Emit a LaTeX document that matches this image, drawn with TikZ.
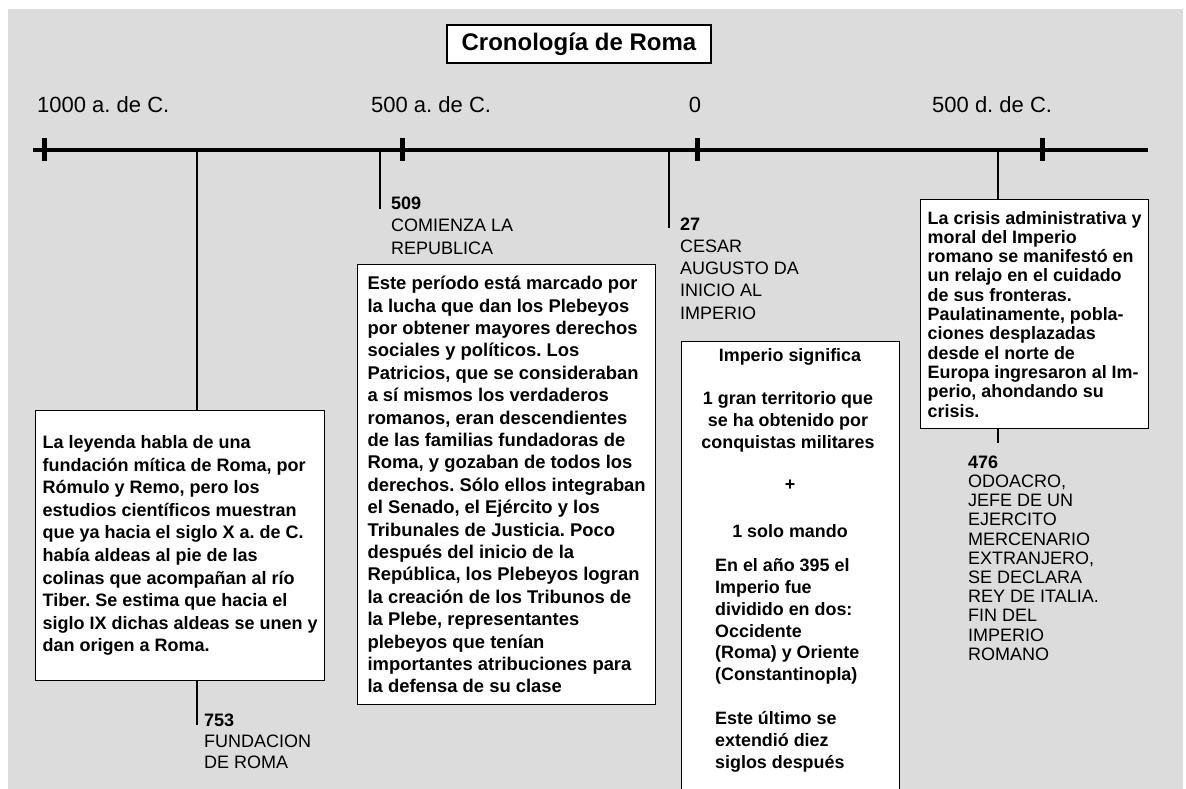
\documentclass[tikz,border=0pt]{standalone}
\usepackage{fontspec}
\setmainfont{Liberation Sans}
\frenchspacing
\definecolor{bggray}{RGB}{220,220,220}
\tikzset{
  boxnode/.style={draw=black, line width=1.3pt, fill=white, rectangle, inner sep=0pt, anchor=north west},
  axisline/.style={line width=4.5pt},
  tickline/.style={line width=5pt},
  evline/.style={line width=2pt},
  lab/.style={align=left, inner sep=0pt, anchor=north west},
  axlab/.style={font=\fontsize{22}{26}\selectfont, inner sep=0pt},
  bt/.style={font=\bfseries\fontsize{17.9}{21.8}\selectfont, inner sep=0pt}
}
\begin{document}
\frenchspacing
\begin{tikzpicture}[x=1pt,y=-1pt]
\useasboundingbox (0,0) rectangle (1186,789);
\fill[white] (0,0) rectangle (1186,789);
\fill[bggray] (8,9) rectangle (1183,789);

% title
\node[draw=black, line width=1.3pt, fill=white, minimum width=264pt, minimum height=38pt, inner sep=0pt,
      font=\bfseries\fontsize{24}{28}\selectfont] (title) at (579,44) {Cronología de Roma};

% axis labels
\node[axlab, anchor=west] (a1) at (37,105) {1000 a. de C.};
\node[axlab, anchor=west] (a2) at (371,105) {500 a. de C.};
\node[axlab] (a3) at (695,105) {0};
\node[axlab, anchor=west] (a4) at (932,105) {500 d. de C.};

% axis
\coordinate (axL) at (33,150);
\coordinate (axR) at (1148,150);
\draw[axisline] (axL) -- (axR);
\foreach \tx in {44,402,697,1042} {\draw[tickline] (\tx,138) -- (\tx,161);}

% boxes
\node[boxnode, minimum width=289pt, minimum height=270pt, align=left,
      font=\bfseries\fontsize{18}{22.6}\selectfont] (b1) at (35,410)
 {La leyenda habla de una\\
  fundación mítica de Roma, por\\
  Rómulo y Remo, pero los\\
  estudios científicos muestran\\
  que ya hacia el siglo X a. de C.\\
  había aldeas al pie de las\\
  colinas que acompañan al río\\
  Tiber. Se estima que hacia el\\
  siglo IX dichas aldeas se unen y\\
  dan origen a Roma.};

\node[boxnode, minimum width=298pt, minimum height=440pt, align=left,
      font=\bfseries\fontsize{18.4}{22.4}\selectfont] (b2) at (357,264)
 {Este período está marcado por\\
  la lucha que dan los Plebeyos\\
  por obtener mayores derechos\\
  sociales y políticos. Los\\
  Patricios, que se consideraban\\
  a sí mismos los verdaderos\\
  romanos, eran descendientes\\
  de las familias fundadoras de\\
  Roma, y gozaban de todos los\\
  derechos. Sólo ellos integraban\\
  el Senado, el Ejército y los\\
  Tribunales de Justicia. Poco\\
  después del inicio de la\\
  República, los Plebeyos logran\\
  la creación de los Tribunos de\\
  la Plebe, representantes\\
  plebeyos que tenían\\
  importantes atribuciones para\\
  la defensa de su clase};

\node[boxnode, minimum width=218pt, minimum height=470pt] (b3) at (681,341) {};
\node[bt] (t3a) at (790,357) {Imperio significa};
\node[bt, align=center] (t3b) at (788,422) {1 gran territorio que\\se ha obtenido por\\conquistas militares};
\node[bt] (t3c) at (790,485) {+};
\node[bt] (t3d) at (790,531) {1 solo mando};
\node[bt, align=left, anchor=north west] (t3e) at (715,558.6)
 {En el año 395 el\\Imperio fue\\dividido en dos:\\Occidente\\(Roma) y Oriente\\(Constantinopla)};
\node[bt, align=left, anchor=north west] (t3f) at (715,711.6)
 {Este último se\\extendió diez\\siglos después};

\node[boxnode, minimum width=228pt, minimum height=229pt, align=left,
      font=\bfseries\fontsize{17.9}{19.3}\selectfont] (b4) at (920,199)
 {La crisis administrativa y\\
  moral del Imperio\\
  romano se manifestó en\\
  un relajo en el cuidado\\
  de sus fronteras.\\
  Paulatinamente, pobla-\\
  ciones desplazadas\\
  desde el norte de\\
  Europa ingresaron al Im-\\
  perio, ahondando su\\
  crisis.};

% event connectors
\coordinate (e753) at (197,150);
\coordinate (e753b) at (197,725);
\coordinate (e509) at (380,150);
\coordinate (e509b) at (380,209);
\coordinate (e27) at (669,150);
\coordinate (e27b) at (669,228);
\coordinate (e476) at (998,150);
\coordinate (e476b) at (998,443);
\draw[evline] (e753) -- (e753 |- b1.north);
\draw[evline] (b1.south -| e753) -- (e753b);
\draw[evline] (e509) -- (e509b);
\draw[evline] (e27) -- (e27b);
\draw[evline] (e476) -- (e476 |- b4.north);
\draw[evline] (b4.south -| e476) -- (e476b);

% event labels
\node[lab, font=\fontsize{18}{21.2}\selectfont] (l753) at (204,713.5)
 {\textbf{753}\\FUNDACION\\DE ROMA};
\node[lab, font=\fontsize{18}{22.4}\selectfont] (l509) at (391,196.5)
 {\textbf{509}\\COMIENZA LA\\REPUBLICA};
\node[lab, font=\fontsize{18}{22.2}\selectfont] (l27) at (680,217.5)
 {\textbf{27}\\CESAR\\AUGUSTO DA\\INICIO AL\\IMPERIO};
\node[lab, font=\fontsize{18}{19.2}\selectfont] (l476) at (968,455.5)
 {\textbf{476}\\ODOACRO,\\JEFE DE UN\\EJERCITO\\MERCENARIO\\EXTRANJERO,\\SE DECLARA\\REY DE ITALIA.\\FIN DEL\\IMPERIO\\ROMANO};
\end{tikzpicture}
\end{document}
